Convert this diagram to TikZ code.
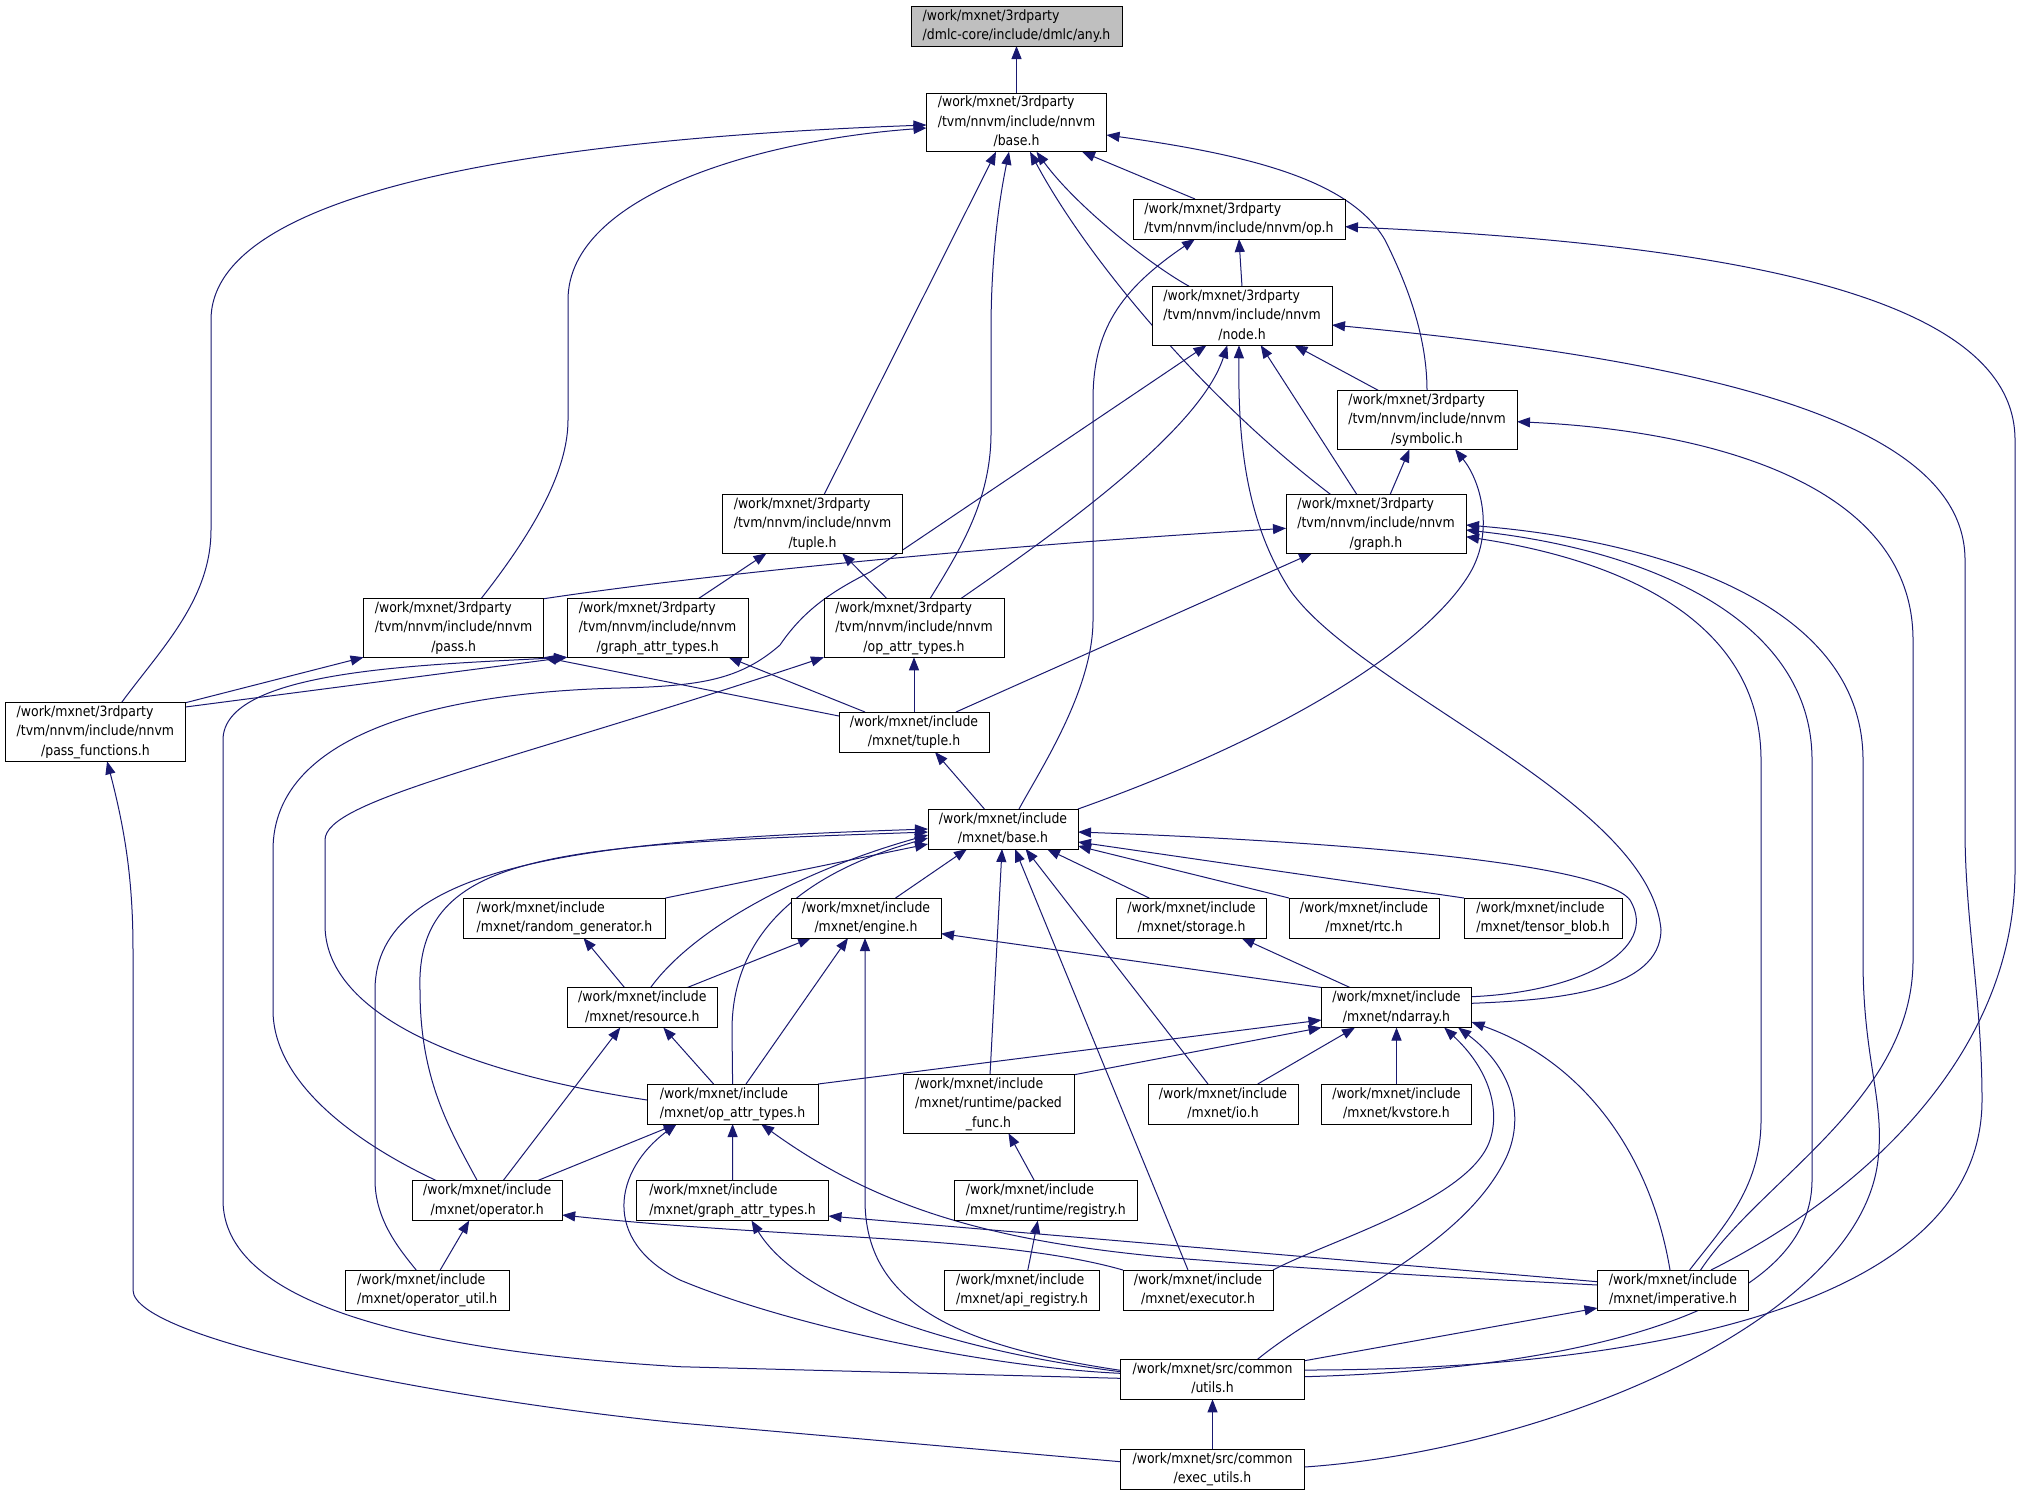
\documentclass[tikz,border=0pt]{standalone}
\usepackage{fontspec}
\setmainfont{DejaVu Sans}[FakeStretch=0.88]
\usetikzlibrary{arrows.meta,calc,backgrounds}
\definecolor{eb}{HTML}{191970}
\definecolor{rootfill}{HTML}{BFBFBF}
\newcommand\twol[2]{\begin{tabular}{@{}l@{}}#1\\\multicolumn{1}{@{}c@{}}{#2}\end{tabular}}
\newcommand\threel[3]{\begin{tabular}{@{}l@{}}#1\\#2\\\multicolumn{1}{@{}c@{}}{#3}\end{tabular}}
\tikzset{
  box/.style={draw=black, line width=0.5pt, fill=white, inner sep=0pt, outer sep=0pt,
    font=\fontsize{7.1}{9.75}\selectfont},
  bs/.style 2 args={minimum width=#1*0.5pt, minimum height=#2*0.5pt},
  dep/.style={draw=eb, line width=0.5pt, arrows={Triangle[length=6.5pt,width=5pt]-}}
}
\begin{document}
\begin{tikzpicture}[x=0.5pt,y=-0.5pt]
\useasboundingbox (0,0) rectangle (2021,1495);

% ---------- nodes ----------
\node[box,bs={211}{40},fill=rootfill] (any) at (1016.5,26) {\twol{/work/mxnet/3rdparty}{/dmlc-core/include/dmlc/any.h}};
\node[box,bs={180}{55}] (nbase) at (1016.5,122.5) {\threel{/work/mxnet/3rdparty}{/tvm/nnvm/include/nnvm}{/base.h}};
\node[box,bs={212}{40}] (op) at (1239,219) {\twol{/work/mxnet/3rdparty}{/tvm/nnvm/include/nnvm/op.h}};
\node[box,bs={180}{55}] (node) at (1242,316) {\threel{/work/mxnet/3rdparty}{/tvm/nnvm/include/nnvm}{/node.h}};
\node[box,bs={180}{55}] (sym) at (1427,420) {\threel{/work/mxnet/3rdparty}{/tvm/nnvm/include/nnvm}{/symbolic.h}};
\node[box,bs={180}{55}] (graph) at (1376,524) {\threel{/work/mxnet/3rdparty}{/tvm/nnvm/include/nnvm}{/graph.h}};
\node[box,bs={180}{55}] (ntuple) at (812.5,524) {\threel{/work/mxnet/3rdparty}{/tvm/nnvm/include/nnvm}{/tuple.h}};
\node[box,bs={180}{55}] (pass) at (453.6,628) {\threel{/work/mxnet/3rdparty}{/tvm/nnvm/include/nnvm}{/pass.h}};
\node[box,bs={181}{55}] (ngat) at (657.6,628) {\threel{/work/mxnet/3rdparty}{/tvm/nnvm/include/nnvm}{/graph\_attr\_types.h}};
\node[box,bs={180}{55}] (nopat) at (914,628) {\threel{/work/mxnet/3rdparty}{/tvm/nnvm/include/nnvm}{/op\_attr\_types.h}};
\node[box,bs={180}{55}] (passf) at (95.4,732) {\threel{/work/mxnet/3rdparty}{/tvm/nnvm/include/nnvm}{/pass\_functions.h}};
\node[box,bs={150}{40}] (mtuple) at (914,732) {\twol{/work/mxnet/include}{/mxnet/tuple.h}};
\node[box,bs={150}{40}] (mbase) at (1003,829) {\twol{/work/mxnet/include}{/mxnet/base.h}};
\node[box,bs={202}{40}] (rng) at (564.5,918) {\twol{/work/mxnet/include}{/mxnet/random\_generator.h}};
\node[box,bs={150}{40}] (engine) at (866,918) {\twol{/work/mxnet/include}{/mxnet/engine.h}};
\node[box,bs={150}{40}] (storage) at (1191.5,918) {\twol{/work/mxnet/include}{/mxnet/storage.h}};
\node[box,bs={150}{40}] (rtc) at (1364,918) {\twol{/work/mxnet/include}{/mxnet/rtc.h}};
\node[box,bs={158}{40}] (tblob) at (1543,918) {\twol{/work/mxnet/include}{/mxnet/tensor\_blob.h}};
\node[box,bs={150}{40}] (resource) at (642.3,1007.5) {\twol{/work/mxnet/include}{/mxnet/resource.h}};
\node[box,bs={150}{40}] (ndarray) at (1396.5,1007.5) {\twol{/work/mxnet/include}{/mxnet/ndarray.h}};
\node[box,bs={171}{40}] (mopat) at (732.6,1104) {\twol{/work/mxnet/include}{/mxnet/op\_attr\_types.h}};
\node[box,bs={171}{55}] (packed) at (988.5,1104) {\threel{/work/mxnet/include}{/mxnet/runtime/packed}{\_func.h}};
\node[box,bs={150}{40}] (io) at (1223,1104) {\twol{/work/mxnet/include}{/mxnet/io.h}};
\node[box,bs={150}{40}] (kvstore) at (1396.5,1104) {\twol{/work/mxnet/include}{/mxnet/kvstore.h}};
\node[box,bs={150}{40}] (operator) at (487.2,1200.5) {\twol{/work/mxnet/include}{/mxnet/operator.h}};
\node[box,bs={192}{40}] (mgat) at (732.5,1200.5) {\twol{/work/mxnet/include}{/mxnet/graph\_attr\_types.h}};
\node[box,bs={183}{40}] (registry) at (1045.8,1200.5) {\twol{/work/mxnet/include}{/mxnet/runtime/registry.h}};
\node[box,bs={164}{40}] (oputil) at (427.2,1290) {\twol{/work/mxnet/include}{/mxnet/operator\_util.h}};
\node[box,bs={155}{40}] (apireg) at (1022,1290) {\twol{/work/mxnet/include}{/mxnet/api\_registry.h}};
\node[box,bs={150}{40}] (executor) at (1198,1290) {\twol{/work/mxnet/include}{/mxnet/executor.h}};
\node[box,bs={151}{40}] (imperative) at (1673,1290) {\twol{/work/mxnet/include}{/mxnet/imperative.h}};
\node[box,bs={184}{40}] (utils) at (1212.5,1379.3) {\twol{/work/mxnet/src/common}{/utils.h}};
\node[box,bs={184}{40}] (execu) at (1212.5,1469) {\twol{/work/mxnet/src/common}{/exec\_utils.h}};

% ---------- edges (behind the boxes) ----------
\begin{pgfonlayer}{background}
\fill[white] (0,0) rectangle (2021,1495);
\draw[dep] (any.south) -- (nbase.north);
\draw[dep] ($(nbase.south)+(65.5,0)$) -- ($(op.north)+(-44,0)$);
\draw[dep] ($(nbase.south)+(20,0)$) .. controls (1075,205) and (1150,265) .. ($(node.north)+(-52,0)$);
\draw[dep] ($(nbase.east)+(0,12.5)$) .. controls (1250,155) and (1350,180) .. (1385,240) .. controls (1410,290) and (1427,340) .. (sym.north);
\draw[dep] ($(nbase.south)+(13.5,0)$) .. controls (1085,255) and (1200,395) .. ($(graph.north)+(-45,0)$);
\draw[dep] ($(nbase.south)+(-20.5,0)$) -- ($(ntuple.north)+(11.5,0)$);
\draw[dep] ($(nbase.south)+(-7.5,0)$) .. controls (995,220) and (991,280) .. (991,330) -- (991,433) .. controls (991,500) and (960,550) .. ($(nopat.north)+(16,0)$);
\draw[dep] ($(nbase.west)+(0,5.5)$) .. controls (760,140) and (568,195) .. (568,300) -- (568,420) .. controls (568,470) and (535,530) .. ($(pass.north)+(27.4,0)$);
\draw[dep] ($(nbase.west)+(0,2.5)$) .. controls (650,135) and (211,170) .. (211,320) -- (211,530) .. controls (211,600) and (160,650) .. ($(passf.north)+(26,0)$);

\draw[dep] (op.south) -- (node.north);
\draw[dep] ($(op.south)+(-44,0)$) .. controls (1120,290) and (1093,330) .. (1093,400) -- (1093,620) .. controls (1093,690) and (1040,770) .. ($(mbase.north)+(16,0)$);
\draw[dep] ($(op.east)+(0,7.7)$) .. controls (1750,245) and (2015,300) .. (2015,440) -- (2015,870) .. controls (2015,1050) and (1870,1190) .. ($(imperative.north)+(38,0)$);

\draw[dep] ($(node.south)+(52.5,0)$) -- ($(sym.north)+(-48,0)$);
\draw[dep] ($(node.south)+(18.7,0)$) -- ($(graph.north)+(-19,0)$);
\draw[dep] ($(node.south)+(-14.7,0)$) .. controls (1200,430) and (1060,530) .. ($(nopat.north)+(46.6,0)$);
\draw[dep] ($(node.south)+(-3,0)$) .. controls (1238,440) and (1245,520) .. (1290,590) .. controls (1360,690) and (1650,800) .. (1661,930) .. controls (1660,990) and (1560,1000) .. ($(ndarray.east)+(0,-4.2)$);
\draw[dep] ($(node.east)+(0,9)$) .. controls (1700,360) and (1965,420) .. (1965,560) -- (1965,830) .. controls (1965,920) and (1982,1000) .. (1982,1100) .. controls (1982,1320) and (1600,1370) .. ($(utils.east)+(0,-9.3)$);
\draw[dep] ($(node.south)+(-35.5,0)$) -- (870,572) .. controls (835,590) and (805,608) .. (780,645) .. controls (740,680) and (700,686) .. (620,688) .. controls (450,692) and (273,730) .. (273,850) -- (273,1010) .. controls (273,1080) and (350,1140) .. ($(operator.north)+(-51,0)$);

\draw[dep] ($(sym.south)+(-17.5,0)$) -- ($(graph.north)+(14,0)$);
\draw[dep] ($(sym.south)+(28,0)$) .. controls (1480,480) and (1495,530) .. (1470,573) .. controls (1430,640) and (1300,730) .. (mbase.north east);
\draw[dep] ($(sym.east)+(0,1.7)$) .. controls (1700,430) and (1913,480) .. (1913,640) -- (1913,960) .. controls (1913,1100) and (1760,1180) .. ($(imperative.north)+(27.6,0)$);

\draw[dep] ($(graph.west)+(0,4.3)$) .. controls (1000,545) and (700,575) .. (pass.north east);
\draw[dep] ($(graph.south)+(-64,0)$) -- ($(mtuple.north)+(42,0)$);
\draw[dep] ($(graph.east)+(0,1)$) .. controls (1650,540) and (1863,600) .. (1863,760) -- (1863,960) .. controls (1863,1060) and (1885,1100) .. (1878,1160) .. controls (1860,1320) and (1550,1450) .. ($(execu.east)+(0,-2)$);
\draw[dep] ($(graph.east)+(0,6)$) .. controls (1650,550) and (1812,620) .. (1812,760) -- (1812,1180) .. controls (1812,1320) and (1550,1370) .. ($(utils.east)+(0,-2.6)$);
\draw[dep] ($(graph.east)+(0,12.7)$) .. controls (1620,560) and (1761,620) .. (1761,760) -- (1761,1120) .. controls (1761,1190) and (1720,1230) .. ($(imperative.north)+(16.6,0)$);

\draw[dep] ($(ntuple.south)+(-46,0)$) -- ($(ngat.north)+(40.6,0)$);
\draw[dep] ($(ntuple.south)+(29.7,0)$) -- ($(nopat.north)+(-27,0)$);

\draw[dep] (pass.south west) -- (passf.north east);
\draw[dep] (pass.south east) -- ($(mtuple.west)+(0,-16)$);
\draw[dep] (ngat.south west) -- ($(passf.east)+(0,-25)$);
\draw[dep] ($(ngat.south)+(71,0)$) -- ($(mtuple.north)+(-49,0)$);
\draw[dep] (ngat.south west) .. controls (420,665) and (223,670) .. (223,740) -- (223,1200) .. controls (223,1300) and (400,1350) .. (680,1366.7) -- ($(utils.west)+(0,-1)$);

\draw[dep] (nopat.south west) .. controls (500,765) and (325,800) .. (325,840) -- (325,925) .. controls (325,1010) and (450,1070) .. ($(mopat.west)+(0,-4)$);
\draw[dep] (nopat.south) -- (mtuple.north);

\draw[dep] ($(passf.south)+(11.7,0)$) .. controls (125,830) and (133,880) .. (133,950) -- (133,1290) .. controls (133,1340) and (450,1400) .. (680,1423) -- ($(execu.west)+(0,-7.3)$);

\draw[dep] ($(mtuple.south)+(21,0)$) -- ($(mbase.north)+(-18.6,0)$);

\draw[dep] ($(mbase.west)+(0,15)$) -- (rng.north east);
\draw[dep] ($(mbase.south)+(-36,0)$) -- ($(engine.north)+(29.5,0)$);
\draw[dep] ($(mbase.south)+(44,0)$) -- ($(storage.north)+(-42.3,0)$);
\draw[dep] ($(mbase.east)+(0,17)$) -- (rtc.north west);
\draw[dep] ($(mbase.east)+(0,13)$) -- (tblob.north west);
\draw[dep] ($(mbase.east)+(0,3)$) .. controls (1300,840) and (1600,860) .. (1630,900) .. controls (1660,950) and (1580,992) .. ($(ndarray.east)+(0,-10.8)$);
\draw[dep] ($(mbase.west)+(0,6)$) .. controls (820,865) and (700,920) .. ($(resource.north)+(8.3,0)$);
\draw[dep] ($(mbase.west)+(0,9)$) .. controls (780,880) and (732,950) .. (732,1030) -- (mopat.north);
\draw[dep] ($(mbase.west)+(0,3)$) .. controls (560,845) and (415,850) .. (420,990) .. controls (420,1080) and (450,1130) .. ($(operator.north)+(-10,0)$);
\draw[dep] (mbase.west) .. controls (600,840) and (375,860) .. (375,990) -- (375,1180) .. controls (375,1220) and (400,1250) .. ($(oputil.north)+(-11,0)$);
\draw[dep] ($(mbase.south)+(-1,0)$) -- ($(packed.north)+(1.5,0)$);
\draw[dep] ($(mbase.south)+(12,0)$) -- ($(executor.north)+(-10,0)$);
\draw[dep] ($(mbase.south)+(22.6,0)$) -- ($(io.north)+(-15,0)$);

\draw[dep] ($(engine.south)+(-55,0)$) -- ($(resource.north)+(45,0)$);
\draw[dep] ($(engine.south)+(-18,0)$) -- ($(mopat.north)+(13.4,0)$);
\draw[dep] ($(engine.south)+(-1,0)$) -- (865,1200) .. controls (865,1300) and (950,1345) .. ($(utils.west)+(0,-9)$);
\draw[dep] ($(engine.east)+(0,15.6)$) -- (ndarray.north west);

\draw[dep] ($(rng.south)+(19,0)$) -- ($(resource.north)+(-17.8,0)$);
\draw[dep] ($(storage.south)+(50,0)$) -- ($(ndarray.north)+(-46.5,0)$);

\draw[dep] ($(resource.south)+(-22,0)$) -- ($(operator.north)+(16,0)$);
\draw[dep] ($(resource.south)+(21,0)$) -- ($(mopat.north)+(-19,0)$);

\draw[dep] ($(ndarray.west)+(0,12.5)$) -- (mopat.north east);
\draw[dep] (ndarray.south west) -- (packed.north east);
\draw[dep] ($(ndarray.south)+(-41.5,0)$) -- ($(io.north)+(34.7,0)$);
\draw[dep] (ndarray.south) -- (kvstore.north);
\draw[dep] ($(ndarray.south)+(47.7,0)$) .. controls (1490,1070) and (1500,1110) .. (1490,1140) .. controls (1470,1200) and (1330,1240) .. (executor.north east);
\draw[dep] ($(ndarray.south)+(61.6,0)$) .. controls (1515,1070) and (1525,1120) .. (1505,1160) .. controls (1460,1250) and (1330,1300) .. ($(utils.north)+(45,0)$);
\draw[dep] ($(ndarray.east)+(0,14.5)$) .. controls (1580,1060) and (1650,1150) .. ($(imperative.north)+(-3,0)$);

\draw[dep] ($(mopat.south)+(-56,0)$) -- ($(operator.north)+(50.6,0)$);
\draw[dep] (mopat.south) -- (mgat.north);
\draw[dep] ($(mopat.south)+(-56,0)$) .. controls (615,1170) and (600,1240) .. (680,1280) .. controls (800,1330) and (1000,1368) .. ($(utils.west)+(0,-6)$);
\draw[dep] ($(mopat.south)+(28.5,0)$) .. controls (880,1210) and (1000,1245) .. (1200,1260) .. controls (1350,1272) and (1500,1280) .. ($(imperative.west)+(0,-5)$);

\draw[dep] ($(operator.south)+(-18,0)$) -- ($(oputil.north)+(13,0)$);
\draw[dep] ($(operator.east)+(0,14.5)$) .. controls (800,1240) and (1000,1235) .. (executor.north west);

\draw[dep] ($(mgat.east)+(0,15.5)$) -- ($(imperative.west)+(0,-8.3)$);
\draw[dep] ($(mgat.south)+(19,0)$) .. controls (800,1300) and (950,1350) .. ($(utils.west)+(0,-7.6)$);

\draw[dep] ($(packed.south)+(20,0)$) -- ($(registry.north)+(-11.5,0)$);
\draw[dep] ($(registry.south)+(-8,0)$) -- ($(apireg.north)+(5.8,0)$);
\draw[dep] ($(imperative.west)+(0,18)$) -- ($(utils.east)+(0,-18.6)$);
\draw[dep] (utils.south) -- (execu.north);
\end{pgfonlayer}
\end{tikzpicture}
\end{document}
